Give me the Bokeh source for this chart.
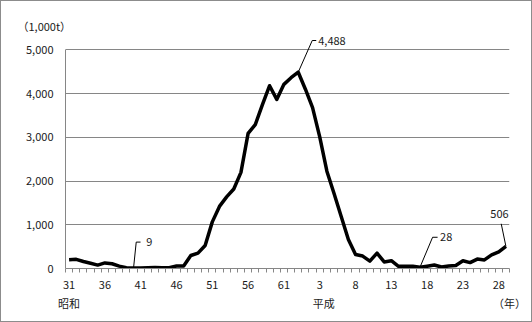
from bokeh.plotting import figure
from bokeh.layouts import column
from bokeh.models import Range1d, FixedTicker, NumeralTickFormatter, Label, LinearAxis
from bokeh.embed import file_html
from bokeh.resources import INLINE

# ---- data: sardine catch (1,000t), Showa 31 (1956) .. Heisei 29 (2017) ----
years = list(range(1956, 2018))
catch = [200, 210, 160, 120, 78, 127, 109, 55, 20, 9,
         13, 17, 23, 17, 17, 57, 58, 297, 352, 526,
         1066, 1420, 1637, 1817, 2198, 3089, 3290, 3745, 4179, 3866,
         4210, 4362, 4488, 4099, 3678, 3010, 2224, 1714, 1189, 661,
         319, 284, 167, 351, 150, 178, 50, 52, 50, 28,
         53, 79, 35, 57, 70, 176, 135, 215, 196, 311,
         378, 506]
tick_labels = ["31", "36", "41", "46", "51", "56", "61",
               "3", "8", "13", "18", "23", "28"]
era_labels = ["昭和", "平成", "（年）"]
unit_label = "（1,000t）"
y_ticks = [0, 1000, 2000, 3000, 4000, 5000]
callout_idx = [32, 9, 49, 61]

# ---- layout constants ----
FONT = "Noto Sans CJK JP"
W, H = 530, 320
ML, MR, MT, MB = 64, 22, 31, 53
N = len(catch)
Y_END = 5396
PXX = (W - ML - MR) / N               # px per category
PXY = (H - MT - MB) / Y_END           # px per unit
def dx(px): return px / PXX
def dy(px): return -px / PXY          # screen px (down positive) -> data

xs = list(range(N))
p = figure(width=W, height=H, output_backend="svg", toolbar_location=None,
           x_range=Range1d(-0.5, N - 0.5), y_range=Range1d(0, Y_END),
           min_border_left=ML, min_border_right=MR,
           min_border_top=MT, min_border_bottom=MB,
           background_fill_color="white", border_fill_color="white")
p.outline_line_color = None

# unit label as title
p.title.text = unit_label
p.title.align = "left"
p.title.offset = -48
p.title.standoff = -2
p.title.text_font = FONT
p.title.text_font_size = "11px"
p.title.text_font_style = "normal"
p.title.text_color = "#1a1a1a"

# x axis
xa = p.xaxis[0]
xa.ticker = FixedTicker(ticks=list(range(0, N, 5))[:len(tick_labels)],
                        minor_ticks=[i - 0.5 for i in range(N + 1)])
xa.major_label_overrides = {i * 5: t for i, t in enumerate(tick_labels)}
xa.major_tick_out = 0
xa.major_tick_in = 0
xa.minor_tick_out = 4
xa.minor_tick_in = 0
xa.minor_tick_line_color = "#868686"
xa.axis_line_color = "#868686"
xa.major_label_standoff = 8
xa.major_label_text_font = FONT
xa.major_label_text_font_size = "11px"
xa.major_label_text_color = "#1a1a1a"

# era axis (second row under the year labels)
era_pos = [0, 35.55, N - 0.5]
ea = LinearAxis(ticker=FixedTicker(ticks=era_pos, minor_ticks=[]),
                major_label_overrides={k: t for k, t in zip(era_pos, era_labels)},
                axis_line_color=None, major_tick_line_color=None,
                minor_tick_line_color=None, major_label_standoff=-3,
                major_label_text_font=FONT, major_label_text_font_size="11px",
                major_label_text_color="#1a1a1a")
p.add_layout(ea, "below")

# y axis
ya = p.yaxis[0]
ya.ticker = FixedTicker(ticks=y_ticks, minor_ticks=[])
ya.formatter = NumeralTickFormatter(format="0,0")
ya.bounds = (0, y_ticks[-1])
ya.major_tick_out = 0
ya.major_tick_in = 0
ya.minor_tick_line_color = None
ya.axis_line_color = "#868686"
ya.major_label_standoff = 12
ya.major_label_text_font = FONT
ya.major_label_text_font_size = "11px"
ya.major_label_text_color = "#1a1a1a"

p.xgrid.grid_line_color = None
p.ygrid.grid_line_color = "#868686"
p.ygrid.ticker = FixedTicker(ticks=y_ticks[1:])

p.line(xs, catch, line_color="black", line_width=3.5, line_join="round")

# callouts: (corner dx, corner dy, horizontal len, text dx, text dy, align)
geo = {32: (14, -31.7, 4, 6, 0, "left"),
       9: (2.7, -26, 4.3, 10, 0, "left"),
       49: (12.6, -30, 5, 7.5, 0, "left"),
       61: (-4.7, -22.6, 0, -1.7, -9.3, "center")}
for i in callout_idx:
    cx, cy, hl, tx, ty, al = geo[i]
    x0, y0 = xs[i], catch[i]
    x1, y1 = x0 + dx(cx), y0 + dy(cy)
    p.line([x0, x1, x1 + dx(hl)], [y0, y1, y1], line_color="black", line_width=1)
    p.add_layout(Label(x=x1 + dx(tx), y=y1 + dy(ty), text=f"{catch[i]:,}",
                       text_align=al, text_baseline="middle",
                       text_font=FONT, text_font_size="11px", text_color="#1a1a1a"))

root = column(p, styles={"border": "1px solid #8c8c8c"})
open("out.html", "w").write(file_html(root, INLINE))
